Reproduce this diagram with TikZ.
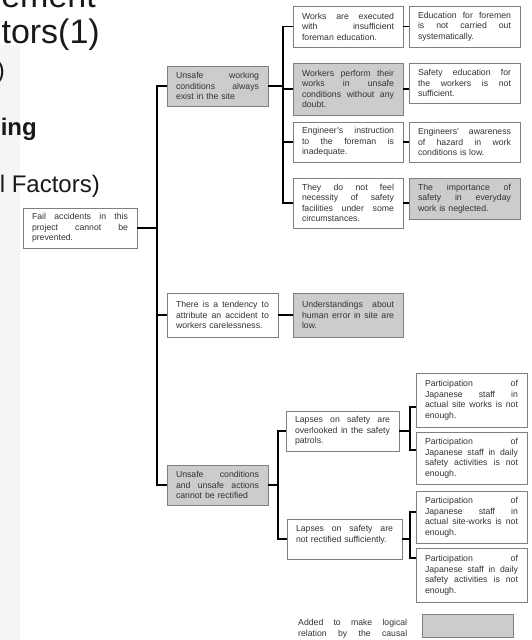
\documentclass[tikz,border=0pt]{standalone}
\usepackage{fontspec}
\setmainfont{Liberation Sans}
\newcommand\boxfont{\fontsize{8.7}{10.5}\selectfont}
\newcommand\J[1]{\hbox to\hsize{\spaceskip=0.28em plus 1fill\relax #1}\par}
\newcommand\bx[7]{%
 \pgfmathsetlengthmacro\bw{#4-#2}\pgfmathsetlengthmacro\bh{#5-#3}\pgfmathsetlengthmacro\tw{#4-#2-18}%
 \pgfmathsetmacro\cx{(#2+#4)/2}\pgfmathsetmacro\cy{(#3+#5)/2}%
 \node[#6,minimum width=\bw,minimum height=\bh,text width=\tw] (#1) at (\cx,\cy) {#7};}
\tikzset{
 bxs/.style={draw=black!50, line width=0.8pt, fill=white, inner xsep=9pt, inner ysep=1pt, align=left, font=\boxfont, text=black!80},
 shd/.style={bxs, fill=black!20},
 conn/.style={draw=black, line width=1.5pt},
 ttl/.style={anchor=base east, inner sep=0pt, text=black!90}
}
\begin{document}
\begin{tikzpicture}[x=1pt,y=-1pt]
\useasboundingbox (0,0) rectangle (532,640);
\clip (0,0) rectangle (532,640);
\fill[black!4] (0,45) rectangle (20,640);
% title fragments
\node[ttl, font=\fontsize{34}{34}\selectfont] (t1) at (96,7) {ement};
\node[ttl, font=\fontsize{34}{34}\selectfont] (t2) at (100,43) {tors(1)};
\node[ttl, font=\fontsize{24}{24}\selectfont] (t3) at (5,78) {)};
\node[ttl, font=\fontsize{24}{24}\selectfont\bfseries] (t4) at (37,135) {ing};
\node[ttl, font=\fontsize{24}{24}\selectfont] (t5) at (100,192) {l Factors)};
% boxes
\bx{root}{23}{208}{137}{248}{bxs}{\J{Fail accidents in this}\J{project cannot be}prevented.}
\bx{B1}{167}{66}{268}{106}{shd}{\J{Unsafe working}\J{conditions always}exist in the site}
\bx{B2}{167}{293}{278}{337}{bxs}{\J{There is a tendency to}\J{attribute an accident to}workers carelessness.}
\bx{B3}{167}{465}{268}{505}{shd}{\J{Unsafe conditions}\J{and unsafe actions}cannot be rectified}
\bx{C1}{293}{6}{403}{47}{bxs}{\J{Works are executed}\J{with insufficient}foreman education.}
\bx{C2}{293}{63}{403}{115}{shd}{\J{Workers perform their}\J{works in unsafe}\J{conditions without any}doubt.}
\bx{C3}{293}{122}{403}{162}{bxs}{\J{Engineer's instruction}\J{to the foreman is}inadequate.}
\bx{C4}{293}{178}{403}{228}{bxs}{\J{They do not feel}\J{necessity of safety}\J{facilities under some}circumstances.}
\bx{D1}{409}{6}{520}{47}{bxs}{\J{Education for foremen}\J{is not carried out}systematically.}
\bx{D2}{409}{63}{520}{103}{bxs}{\J{Safety education for}\J{the workers is not}sufficient.}
\bx{D3}{409}{122}{520}{162}{bxs}{\J{Engineers' awareness}\J{of hazard in work}conditions is low.}
\bx{D4}{409}{178}{520}{219}{shd}{\J{The importance of}\J{safety in everyday}work is neglected.}
\bx{B2R}{293}{293}{403}{337}{shd}{\J{Understandings about}\J{human error in site are}low.}
\bx{E1}{286}{411}{399}{451}{bxs}{\J{Lapses on safety are}\J{overlooked in the safety}patrols.}
\bx{E2}{287}{519}{402}{559}{bxs}{\J{Lapses on safety are}not rectified sufficiently.\\\mbox{}}
\bx{F1}{416}{373}{527}{427}{bxs}{\J{Participation of}\J{Japanese staff in}\J{actual site works is not}enough.}
\bx{F2}{416}{432}{527}{484}{bxs}{\J{Participation of}\J{Japanese staff in daily}\J{safety activities is not}enough.}
\bx{F3}{416}{491}{527}{543}{bxs}{\J{Participation of}\J{Japanese staff in}\J{actual site-works is not}enough.}
\bx{F4}{416}{548}{527}{602}{bxs}{\J{Participation of}\J{Japanese staff in daily}\J{safety activities is not}enough.}
% legend
\node[font=\boxfont, text=black!80, text width=109pt, inner sep=0pt, anchor=north west, align=left] (leg) at (298,619) {\J{Added to make logical}\J{relation by the causal}};
\bx{LB}{422}{614}{513}{637}{shd}{}
% connectors
\coordinate (t) at (157,228);
\coordinate (u) at (283,86);
\coordinate (v) at (278,485);
\coordinate (j1) at (410,431);
\coordinate (j2) at (410,539);
\draw[conn] (root.east) -- (t);
\draw[conn] (B1.west) -| (t) |- (B3.west);
\draw[conn] (B2.west) -- (B2.west -| t);
\draw[conn] (B1.east) -- (u);
\draw[conn] (C1.west) -| (u) |- (C4.west);
\draw[conn] (C2.west) -- (C2.west -| u);
\draw[conn] (C3.west) -- (C3.west -| u);
\draw[conn] (C1.east) -- (D1.west);
\draw[conn] (C2.east) -- (C2.east -| D2.west);
\draw[conn] (C3.east) -- (D3.west);
\draw[conn] (C4.east) -- (C4.east -| D4.west);
\draw[conn] (B2.east) -- (B2R.west);
\draw[conn] (B3.east) -- (v);
\draw[conn] (E1.west) -| (v) |- (E2.west);
\draw[conn] (E1.east) -- (j1);
\draw[conn] (F1.west |- 0,407) -| (j1) |- (F2.west |- 0,450);
\draw[conn] (E2.east) -- (j2);
\draw[conn] (F3.west |- 0,512) -| (j2) |- (F4.west |- 0,558);
\end{tikzpicture}
\end{document}
